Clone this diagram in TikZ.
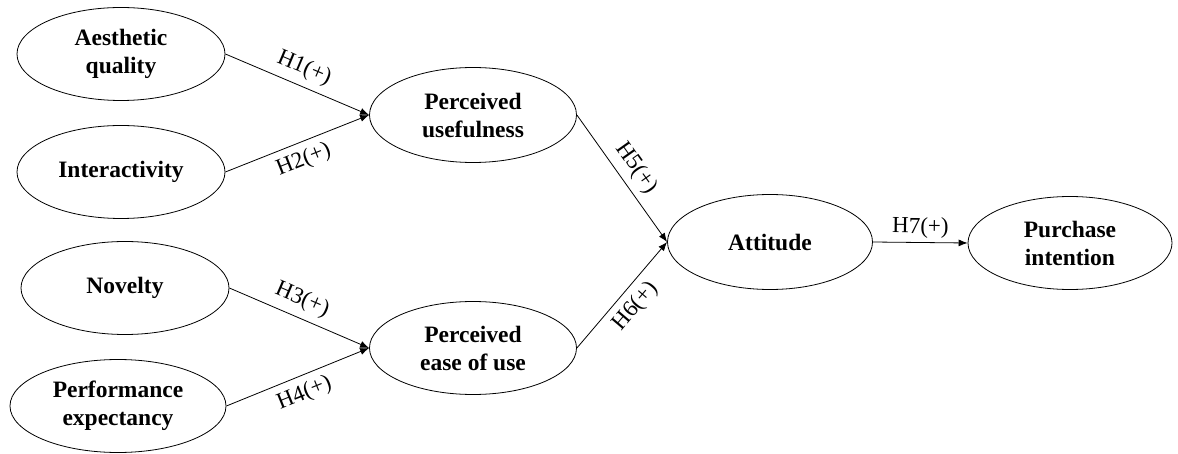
\documentclass[tikz,border=0pt]{standalone}
\usepackage{fontspec}
\setmainfont{Liberation Serif}
\usetikzlibrary{shapes.geometric,arrows.meta}
\begin{document}
\begin{tikzpicture}[x=1pt,y=-1pt,
  construct/.style={ellipse,draw,line width=0.8pt,inner sep=0pt,
    minimum width=208pt,minimum height=93pt,align=center,
    font=\fontsize{23.5}{28}\selectfont\bfseries},
  path/.style={line width=0.8pt,-{Latex[length=9pt,width=7pt]}},
  hyp/.style={font=\fontsize{23}{27}\selectfont,sloped,inner sep=7pt}]
\useasboundingbox (0,0) rectangle (1178,454);
% exogenous constructs
\node[construct] (aq) at (121,54) {Aesthetic\\quality};
\node[construct] (ia) at (121,172) {Interactivity};
\node[construct] (nv) at (125,288) {Novelty};
\node[construct,minimum width=216pt] (pe) at (118,406) {Performance\\expectancy};
% mediators
\node[construct,minimum width=207pt,minimum height=95pt] (pu) at (473,115) {Perceived\\usefulness};
\node[construct,minimum width=207pt] (peou) at (473,348) {Perceived\\ease of use};
% outcomes
\node[construct,minimum width=205pt,minimum height=95pt] (att) at (770,242) {Attitude};
\node[construct,minimum width=204pt] (pi) at (1070,243) {Purchase\\intention};
% hypothesised paths
\draw[path] (aq.east) -- node[hyp,above] {H1(+)} (pu.west);
\draw[path] (ia.east) -- node[hyp,below] {H2(+)} (pu.west);
\draw[path] (nv.east) -- node[hyp,above,pos=0.47] {H3(+)} (peou.west);
\draw[path] (pe.east) -- node[hyp,below] {H4(+)} (peou.west);
\draw[path] (pu.east) -- node[hyp,above] {H5(+)} (att.west);
\draw[path] (peou.east) -- node[hyp,below] {H6(+)} (att.west);
\draw[path] (att.east) -- node[hyp,above,inner sep=4pt] {H7(+)} (pi.west);
\end{tikzpicture}
\end{document}
